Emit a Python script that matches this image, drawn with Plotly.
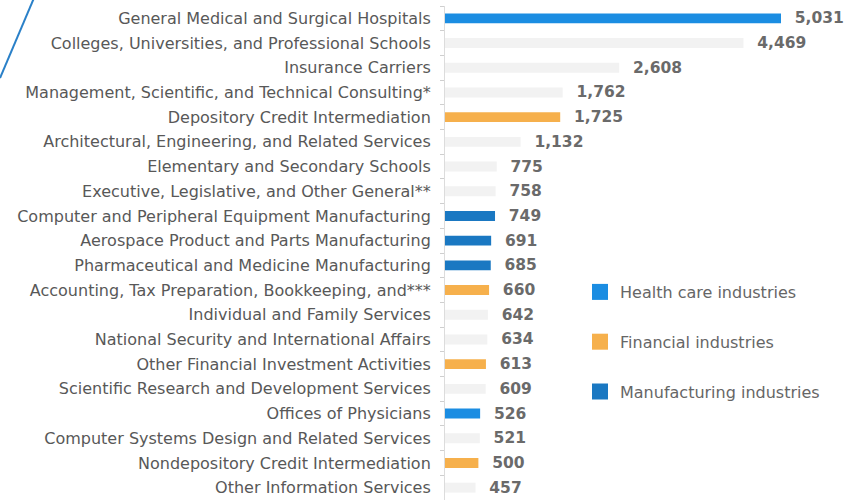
import plotly.graph_objects as go

categories = [
    "General Medical and Surgical Hospitals",
    "Colleges, Universities, and Professional Schools",
    "Insurance Carriers",
    "Management, Scientific, and Technical Consulting*",
    "Depository Credit Intermediation",
    "Architectural, Engineering, and Related Services",
    "Elementary and Secondary Schools",
    "Executive, Legislative, and Other General**",
    "Computer and Peripheral Equipment Manufacturing",
    "Aerospace Product and Parts Manufacturing",
    "Pharmaceutical and Medicine Manufacturing",
    "Accounting, Tax Preparation, Bookkeeping, and***",
    "Individual and Family Services",
    "National Security and International Affairs",
    "Other Financial Investment Activities",
    "Scientific Research and Development Services",
    "Offices of Physicians",
    "Computer Systems Design and Related Services",
    "Nondepository Credit Intermediation",
    "Other Information Services",
]
values = [5031, 4469, 2608, 1762, 1725, 1132, 775, 758, 749, 691,
          685, 660, 642, 634, 613, 609, 526, 521, 500, 457]
groups = ["health", "other", "other", "other", "financial", "other", "other", "other",
          "manufacturing", "manufacturing", "manufacturing", "financial", "other", "other",
          "financial", "other", "health", "other", "financial", "other"]

group_names = {"health": "Health care industries",
               "financial": "Financial industries",
               "manufacturing": "Manufacturing industries"}
group_colors = {"health": "#1b8de2", "financial": "#f6b04c",
                "manufacturing": "#1a78c2", "other": "#f2f2f2"}

W, H = 859, 500
ml, mr, mt, mb = 445, 19, 6, 0
pw = W - ml - mr
ph = H - mt - mb

fig = go.Figure()
fig.add_trace(go.Bar(
    x=values, y=categories, orientation="h",
    marker=dict(color=[group_colors[g] for g in groups], line=dict(width=0)),
    text=values, texttemplate="\u00a0\u00a0%{x:,}", textposition="outside",
    constraintext="none",
    textfont=dict(family="DejaVu Sans", size=15.5, color="#6a6a6a", weight="bold"),
    cliponaxis=False, showlegend=False, hoverinfo="skip",
))
for i, g in enumerate(["health", "financial", "manufacturing"]):
    fig.add_trace(go.Scatter(
        x=[None], y=[None], mode="markers", name=group_names[g],
        marker=dict(symbol="square", size=16, color=group_colors[g]),
        legendgroup=g, showlegend=True,
    ))

xmax = 5031 * pw / 336.0
fig.update_layout(
    width=W, height=H,
    margin=dict(l=ml, r=mr, t=mt, b=mb, autoexpand=False),
    paper_bgcolor="white", plot_bgcolor="white",
    bargap=0.6,
    hovermode=False,
    xaxis=dict(range=[0, xmax], visible=False, automargin=False),
    yaxis=dict(categoryorder="array", categoryarray=categories, autorange="reversed",
               automargin=False,
               showline=True, linecolor="#dcdcdc", linewidth=1,
               ticks="outside", ticklen=4, tickcolor="#cfcfcf", tickson="boundaries",
               ticklabelstandoff=10,
               tickfont=dict(family="DejaVu Sans", size=16, color="#585858"),
               showgrid=False, zeroline=False),
    legend=dict(x=(580 - ml) / pw, y=(H - 275) / ph,
                xanchor="left", yanchor="top",
                font=dict(family="DejaVu Sans", size=16, color="#666666"),
                tracegroupgap=26, bgcolor="rgba(0,0,0,0)"),
    showlegend=True,
    shapes=[dict(type="line", xref="paper", yref="paper",
                 x0=(34 - ml) / pw, y0=(H - (-2)) / ph,
                 x1=(0 - ml) / pw, y1=(H - 78) / ph,
                 line=dict(color="#2a80c8", width=2))],
)
fig.write_html("out.html", config={"displayModeBar": False},
               post_script="document.body.style.margin='0';document.body.style.padding='0';")
